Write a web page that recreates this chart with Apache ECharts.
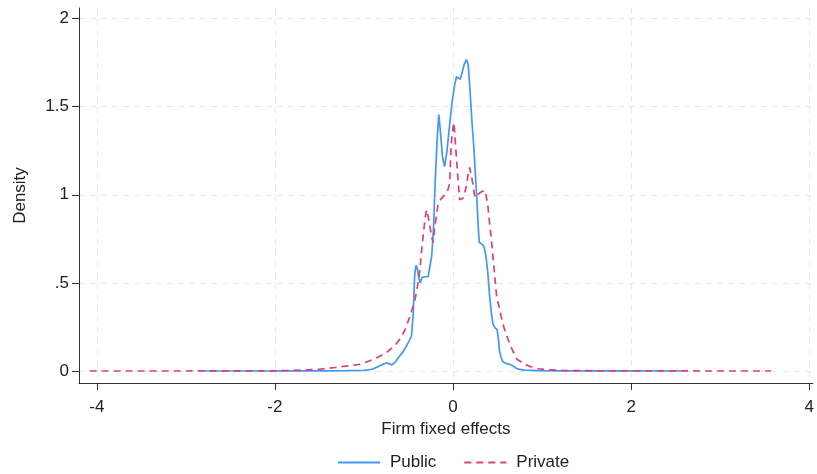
<!DOCTYPE html>
<html>
<head>
<meta charset="utf-8">
<script src="https://cdn.jsdelivr.net/npm/echarts@6/dist/echarts.min.js"></script>
<style>html,body{margin:0;padding:0;background:#fff;}#c{width:817px;height:474px;}</style>
</head>
<body>
<div id="c"></div>
<script>
const seriesNames = ['Public', 'Private'];
const xTicks = [-4, -2, 0, 2, 4];
const yTicks = [0, 0.5, 1, 1.5, 2];
const yTickLabels = ['0', '.5', '1', '1.5', '2'];

const publicX = [-2.8, -2.0, -1.5, -1.2, -1.0, -0.91, -0.84, -0.8, -0.75, -0.72, -0.69, -0.65, -0.615, -0.56, -0.52, -0.484, -0.466, -0.447, -0.43, -0.415, -0.4, -0.385, -0.37, -0.35, -0.316, -0.28, -0.26, -0.24, -0.22, -0.2, -0.18, -0.16, -0.14, -0.12, -0.095, -0.07, -0.04, -0.01, 0.02, 0.04, 0.06, 0.08, 0.1, 0.125, 0.15, 0.17, 0.19, 0.21, 0.235, 0.255, 0.27, 0.285, 0.295, 0.31, 0.335, 0.35, 0.37, 0.39, 0.41, 0.43, 0.447, 0.47, 0.495, 0.51, 0.52, 0.54, 0.56, 0.6, 0.635, 0.67, 0.72, 0.8, 0.95, 1.2, 1.8, 2.57];
const publicY = [0, 0.0005, 0.001, 0.002, 0.004, 0.01, 0.025, 0.035, 0.046, 0.042, 0.034, 0.05, 0.075, 0.11, 0.145, 0.18, 0.2, 0.33, 0.55, 0.6, 0.58, 0.53, 0.5, 0.53, 0.535, 0.535, 0.545, 0.65, 0.8, 1.08, 1.3, 1.455, 1.35, 1.22, 1.16, 1.24, 1.39, 1.53, 1.63, 1.67, 1.66, 1.655, 1.69, 1.74, 1.767, 1.74, 1.6, 1.43, 1.26, 1.08, 0.95, 0.8, 0.73, 0.72, 0.716, 0.7, 0.65, 0.56, 0.43, 0.33, 0.27, 0.245, 0.235, 0.18, 0.12, 0.075, 0.053, 0.042, 0.038, 0.03, 0.012, 0.005, 0.002, 0.001, 0.0005, 0];

const privateX = [-4.08, -3.0, -2.5, -2.0, -1.7, -1.5, -1.32, -1.2, -1.06, -0.99, -0.91, -0.84, -0.76, -0.7, -0.633, -0.585, -0.54, -0.484, -0.428, -0.4, -0.372, -0.35, -0.335, -0.315, -0.298, -0.28, -0.26, -0.235, -0.223, -0.205, -0.186, -0.168, -0.13, -0.09, -0.056, -0.037, -0.028, -0.019, 0.0, 0.011, 0.025, 0.037, 0.056, 0.075, 0.095, 0.112, 0.135, 0.15, 0.17, 0.186, 0.205, 0.223, 0.24, 0.25, 0.275, 0.298, 0.33, 0.361, 0.378, 0.391, 0.41, 0.428, 0.455, 0.49, 0.52, 0.54, 0.57, 0.596, 0.635, 0.67, 0.72, 0.763, 0.82, 0.875, 0.95, 1.06, 1.25, 1.6, 2.5, 3.57];
const privateY = [0, 0.0002, 0.0005, 0.001, 0.005, 0.01, 0.02, 0.028, 0.037, 0.048, 0.063, 0.08, 0.1, 0.125, 0.157, 0.19, 0.233, 0.309, 0.403, 0.48, 0.574, 0.7, 0.77, 0.86, 0.915, 0.88, 0.82, 0.75, 0.73, 0.82, 0.88, 0.95, 0.98, 1.0, 1.03, 1.066, 1.2, 1.3, 1.38, 1.41, 1.3, 1.218, 1.085, 0.972, 0.975, 0.98, 1.02, 1.05, 1.12, 1.155, 1.11, 1.06, 1.0, 0.985, 1.0, 1.01, 1.02, 1.025, 1.02, 0.94, 0.84, 0.76, 0.612, 0.42, 0.36, 0.31, 0.25, 0.21, 0.155, 0.115, 0.065, 0.053, 0.035, 0.024, 0.013, 0.007, 0.003, 0.001, 0.0003, 0];

const pairs = (xs, ys) => xs.map((x, i) => [x, ys[i]]);
const FONT = '"Liberation Sans", Arial, sans-serif';
const FS = 17;
const gridLine = { show: true, lineStyle: { color: '#e8e8e8', type: [6, 5], width: 1 } };

const chart = echarts.init(document.getElementById('c'), null, { renderer: 'canvas' });
chart.setOption({
  animation: false,
  backgroundColor: '#fff',
  grid: { left: 79, right: 0, top: 8, bottom: 91, containLabel: false },
  xAxis: {
    type: 'value', min: -4.2, max: 4.04,
    name: 'Firm fixed effects', nameLocation: 'middle', nameGap: 35,
    nameTextStyle: { fontFamily: FONT, fontSize: FS, color: '#222' },
    axisLine: { onZero: false, lineStyle: { color: '#333', width: 1 } },
    axisTick: { show: true, length: 7, customValues: xTicks, lineStyle: { color: '#333' } },
    axisLabel: { customValues: xTicks, fontFamily: FONT, fontSize: FS, color: '#222', margin: 16 },
    splitLine: gridLine
  },
  yAxis: {
    type: 'value', min: -0.068, max: 2.06,
    name: 'Density', nameLocation: 'middle', nameGap: 50,
    nameTextStyle: { fontFamily: FONT, fontSize: FS, color: '#222' },
    axisLine: { show: true, onZero: false, lineStyle: { color: '#333', width: 1 } },
    axisTick: { show: true, length: 7, customValues: yTicks, lineStyle: { color: '#333' } },
    axisLabel: {
      customValues: yTicks, fontFamily: FONT, fontSize: FS, color: '#222', margin: 10,
      formatter: v => { const i = yTicks.indexOf(v); return i >= 0 ? yTickLabels[i] : ''; }
    },
    splitLine: gridLine
  },
  legend: {
    top: 449, left: 332, itemWidth: 42, itemHeight: 12, itemGap: 27,
    itemStyle: { opacity: 0 },
    textStyle: { fontFamily: FONT, fontSize: FS, color: '#222', padding: [0, 0, 0, 5] },
    data: seriesNames
  },
  series: [
    { name: seriesNames[0], type: 'line', data: pairs(publicX, publicY), symbol: 'none', smooth: false,
      lineStyle: { color: '#4298f3', width: 1.7 }, itemStyle: { color: '#4298f3' } },
    { name: seriesNames[1], type: 'line', data: pairs(privateX, privateY), symbol: 'none', smooth: false,
      lineStyle: { color: '#db4079', width: 1.7, type: [7, 5] }, itemStyle: { color: '#db4079' } }
  ]
});
</script>
</body>
</html>
